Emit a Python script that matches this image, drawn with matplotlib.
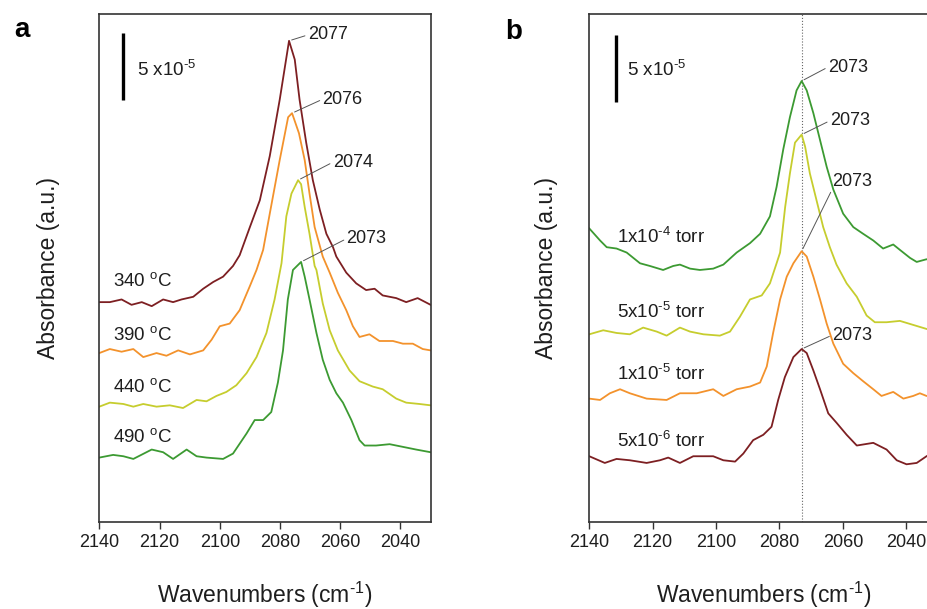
import matplotlib
matplotlib.use('Agg')
import matplotlib.pyplot as plt
import numpy as np

plt.rcParams['font.family'] = ['Liberation Sans', 'DejaVu Sans']
plt.rcParams['mathtext.fontset'] = 'custom'
plt.rcParams['mathtext.rm'] = 'Liberation Sans'
plt.rcParams['mathtext.it'] = 'Liberation Sans:italic'
plt.rcParams['mathtext.bf'] = 'Liberation Sans:bold'

# absorbance in units of 1e-5

# (a) temperature series
wn_340 = [2140.0, 2136.5, 2132.6, 2129.3, 2125.9, 2122.6, 2118.8, 2115.5, 2112.7, 2108.8,
          2105.5, 2102.2, 2098.9, 2095.6, 2093.4, 2090.0, 2086.7, 2083.4, 2080.1, 2077.0,
          2075.1, 2073.5, 2071.3, 2069.1, 2066.8, 2064.6, 2062.4, 2061.3, 2058.0, 2054.7,
          2051.4, 2048.6, 2045.9, 2041.4, 2038.1, 2034.3, 2030.0]
abs_340 = [16.4, 16.4, 16.6, 16.2, 16.4, 16.1, 16.6, 16.4, 16.6, 16.8,
           17.4, 17.9, 18.3, 19.1, 19.9, 22.0, 24.0, 27.3, 31.5, 35.9,
           34.5, 31.5, 28.3, 25.5, 23.3, 21.5, 20.5, 19.8, 18.6, 17.8,
           17.3, 17.4, 16.9, 16.7, 16.4, 16.7, 16.2]

wn_390 = [2140.0, 2136.5, 2132.6, 2128.7, 2125.4, 2121.0, 2117.7, 2113.8, 2109.9, 2105.5,
          2102.7, 2100.0, 2096.7, 2093.4, 2090.0, 2087.8, 2085.6, 2083.4, 2080.1, 2077.3,
          2076.0, 2073.7, 2071.8, 2070.2, 2068.5, 2065.8, 2063.5, 2060.8, 2058.0, 2055.8,
          2053.6, 2050.3, 2047.0, 2042.5, 2039.2, 2035.9, 2032.6, 2030.0]
abs_390 = [12.6, 12.9, 12.7, 12.9, 12.3, 12.6, 12.4, 12.8, 12.5, 12.8,
           13.6, 14.6, 14.8, 15.8, 17.6, 18.8, 20.3, 23.0, 27.0, 30.2,
           30.5, 29.0, 27.0, 24.5, 22.0, 19.8, 18.6, 17.1, 15.8, 14.6,
           13.8, 14.0, 13.5, 13.5, 13.3, 13.3, 12.9, 12.8]

wn_440 = [2140.0, 2136.5, 2132.0, 2128.7, 2125.4, 2121.0, 2116.6, 2112.2, 2107.7, 2104.4,
          2101.1, 2097.8, 2094.5, 2091.1, 2087.8, 2084.5, 2081.8, 2079.5, 2077.9, 2076.2,
          2074.0, 2073.0, 2071.8, 2070.2, 2068.5, 2067.9, 2065.8, 2063.5, 2060.8, 2056.9,
          2053.6, 2049.2, 2045.9, 2041.4, 2038.1, 2033.7, 2030.0]
abs_440 = [8.6, 8.9, 8.8, 8.6, 8.8, 8.6, 8.7, 8.5, 9.1, 9.0,
           9.4, 9.7, 10.2, 11.1, 12.3, 14.1, 16.6, 19.3, 22.8, 24.5,
           25.5, 25.2, 23.5, 21.5, 19.1, 18.8, 16.3, 14.3, 12.8, 11.3,
           10.5, 10.1, 9.9, 9.2, 8.9, 8.8, 8.7]

wn_490 = [2140.0, 2135.4, 2132.0, 2128.7, 2122.6, 2118.8, 2115.5, 2111.0, 2107.7, 2104.4,
          2098.9, 2095.6, 2091.1, 2088.4, 2085.6, 2082.9, 2080.7, 2079.0, 2077.4, 2075.7,
          2073.0, 2071.8, 2070.2, 2067.9, 2065.8, 2063.5, 2061.3, 2059.1, 2056.3, 2053.6,
          2051.9, 2048.1, 2043.6, 2039.2, 2034.8, 2030.0]
abs_490 = [4.8, 5.0, 4.9, 4.7, 5.4, 5.2, 4.7, 5.4, 4.9, 4.8,
           4.7, 5.1, 6.6, 7.6, 7.6, 8.2, 10.4, 12.8, 16.6, 18.8,
           19.4, 18.3, 16.6, 14.1, 12.1, 10.6, 9.6, 8.9, 7.6, 6.1,
           5.7, 5.7, 5.8, 5.6, 5.4, 5.2]

# (b) pressure series
wn_1e4 = [2140.0, 2136.6, 2134.5, 2131.4, 2128.2, 2124.0, 2120.9, 2116.7, 2113.5, 2111.4,
          2108.2, 2105.1, 2100.9, 2097.7, 2093.5, 2089.3, 2086.1, 2083.0, 2080.9, 2078.8,
          2076.7, 2074.6, 2073.0, 2071.4, 2069.3, 2067.2, 2065.1, 2063.0, 2059.9, 2056.7,
          2053.6, 2050.4, 2047.3, 2044.1, 2042.0, 2038.8, 2036.7, 2033.6, 2030.0]
abs_1e4 = [21.9, 21.0, 20.5, 20.4, 20.1, 19.3, 19.1, 18.8, 19.1, 19.2,
           18.9, 18.8, 18.9, 19.2, 20.1, 20.8, 21.5, 22.8, 25.0, 27.8,
           30.2, 32.2, 32.9, 32.2, 30.5, 28.5, 26.5, 24.8, 23.0, 22.0,
           21.5, 21.0, 20.4, 20.7, 20.3, 19.7, 19.4, 19.6, 19.4]

wn_5e5 = [2140.0, 2135.6, 2131.4, 2127.2, 2123.0, 2118.7, 2115.6, 2111.4, 2108.2, 2104.0,
          2098.8, 2095.6, 2092.5, 2089.3, 2085.6, 2083.0, 2080.9, 2079.8, 2078.2, 2076.7,
          2075.1, 2073.0, 2071.9, 2070.4, 2068.3, 2066.2, 2064.1, 2062.0, 2058.8, 2055.6,
          2052.5, 2049.9, 2046.2, 2042.0, 2037.8, 2033.6, 2030.0]
abs_5e5 = [14.0, 14.3, 14.1, 14.0, 14.5, 14.2, 13.9, 14.5, 14.2, 14.0,
           13.9, 14.2, 15.3, 16.6, 16.9, 17.8, 19.3, 20.1, 23.5, 26.0,
           28.3, 28.9, 28.0, 26.0, 24.0, 22.0, 20.5, 19.2, 17.8, 16.8,
           15.4, 14.9, 14.9, 15.0, 14.7, 14.4, 14.2]

wn_1e5 = [2140.0, 2136.6, 2133.5, 2130.3, 2127.2, 2121.9, 2115.6, 2111.4, 2106.1, 2100.9,
          2097.7, 2093.5, 2089.3, 2086.1, 2084.0, 2082.0, 2079.8, 2077.7, 2075.6, 2073.0,
          2071.4, 2069.3, 2067.2, 2065.1, 2063.0, 2059.9, 2056.7, 2053.6, 2050.4, 2047.8,
          2044.1, 2040.9, 2037.8, 2035.7, 2033.6, 2030.0]
abs_1e5 = [9.2, 9.1, 9.6, 9.9, 9.6, 9.2, 9.1, 9.6, 9.6, 9.9,
           9.4, 9.9, 10.1, 10.4, 11.6, 14.1, 16.6, 18.3, 19.3, 20.2,
           19.8, 18.3, 16.6, 14.8, 13.3, 11.8, 11.1, 10.5, 9.9, 9.4,
           9.7, 9.2, 9.4, 9.6, 9.4, 9.4]

wn_5e6 = [2140.0, 2135.1, 2131.4, 2127.2, 2121.9, 2117.7, 2115.1, 2111.4, 2107.2, 2100.9,
          2097.7, 2094.0, 2091.4, 2088.3, 2085.1, 2082.5, 2080.4, 2078.3, 2075.6, 2073.0,
          2071.4, 2069.3, 2067.2, 2064.6, 2062.0, 2058.8, 2055.6, 2050.4, 2046.2, 2043.0,
          2039.9, 2036.7, 2033.6, 2030.0]
abs_5e6 = [4.9, 4.4, 4.7, 4.6, 4.4, 4.6, 4.8, 4.4, 4.9, 4.9,
           4.6, 4.5, 5.1, 6.1, 6.5, 7.1, 9.1, 10.8, 12.3, 12.9,
           12.6, 11.3, 9.9, 8.1, 7.4, 6.5, 5.7, 5.9, 5.4, 4.6,
           4.3, 4.4, 4.9, 5.4]

maroon = '#7d1f22'
orange = '#f3922c'
yellow = '#c6cd2e'
green = '#3c9a32'
text_color = '#1e1e1e'

# superscript helper, short hyphen instead of a math minus
def sup(s):
    return '$^{\\mathregular{' + s.replace('-', '\u2010') + '}}$'


fig = plt.figure(figsize=(9.28, 6.09), dpi=100)
ax_a = fig.add_axes([0.107, 0.143, 0.357, 0.834])
ax_b = fig.add_axes([0.635, 0.143, 0.3757, 0.834])


def setup(ax, ylabel_x):
    ax.set_xlim(2140, 2030)
    ax.set_ylim(0, 37.9)
    ax.set_xticks([2140, 2120, 2100, 2080, 2060, 2040])
    ax.set_yticks([])
    ax.tick_params(axis='x', direction='out', length=5, width=1, pad=4,
                   labelsize=13, colors='#333333', labelcolor=text_color)
    for s in ax.spines.values():
        s.set_linewidth(1.2)
        s.set_color('#333333')
    ax.set_xlabel('Wavenumbers (cm' + sup('-1') + ')', fontsize=16.5, color=text_color)
    ax.xaxis.set_label_coords(0.5, -0.113)
    ax.xaxis.label.set_va('top')
    ax.set_ylabel('Absorbance (a.u.)', fontsize=16.5, color=text_color)
    ax.yaxis.set_label_coords(ylabel_x, 0.5)


def peak_label(ax, wn, ab, text_pos, relpos=(0, 0.5)):
    i = int(np.argmax(ab))
    ax.annotate(f'{wn[i]:.0f}', xy=(wn[i], ab[i]), xytext=text_pos,
                ha='left', va='baseline', fontsize=13, color=text_color,
                arrowprops=dict(arrowstyle='-', color='#555555', lw=0.7,
                                shrinkA=0, shrinkB=2, relpos=relpos))


def scale_bar(ax, x, y0, x_text):
    ax.plot([x, x], [y0, y0 + 5], color='black', lw=2.4, solid_capstyle='butt')
    ax.text(x_text, 33.3, '5 x10' + sup('-5'), fontsize=13.5,
            color=text_color, ha='left', va='baseline')


# panel a
setup(ax_a, -0.12)
lw = 1.3
ax_a.plot(wn_340, abs_340, color=maroon, lw=lw)
ax_a.plot(wn_390, abs_390, color=orange, lw=lw)
ax_a.plot(wn_440, abs_440, color=yellow, lw=lw)
ax_a.plot(wn_490, abs_490, color=green, lw=lw)

for label, y in [('340', 17.6), ('390', 13.6), ('440', 9.7), ('490', 6.0)]:
    ax_a.text(2135.5, y, label + ' ' + sup('o') + 'C', fontsize=13.5,
              color=text_color, ha='left', va='baseline')

peak_label(ax_a, wn_340, abs_340, (2070.8, 36.0))
peak_label(ax_a, wn_390, abs_390, (2065.9, 31.2))
peak_label(ax_a, wn_440, abs_440, (2062.5, 26.5))
peak_label(ax_a, wn_490, abs_490, (2057.9, 20.8))
scale_bar(ax_a, 2132.0, 31.5, 2127.5)
fig.text(0.024, 0.95, 'a', fontsize=20, fontweight='bold', ha='center', va='center')

# panel b
setup(ax_b, -0.09)
ax_b.axvline(2073, color='#666666', ls=':', lw=0.8)
ax_b.plot(wn_1e4, abs_1e4, color=green, lw=lw)
ax_b.plot(wn_5e5, abs_5e5, color=yellow, lw=lw)
ax_b.plot(wn_1e5, abs_1e5, color=orange, lw=lw)
ax_b.plot(wn_5e6, abs_5e6, color=maroon, lw=lw)

for label, y in [('1x10' + sup('-4') + ' torr', 20.8),
                 ('5x10' + sup('-5') + ' torr', 15.2),
                 ('1x10' + sup('-5') + ' torr', 10.6),
                 ('5x10' + sup('-6') + ' torr', 5.6)]:
    ax_b.text(2131.3, y, label, fontsize=13.5, color=text_color,
              ha='left', va='baseline')

peak_label(ax_b, wn_1e4, abs_1e4, (2064.7, 33.6))
peak_label(ax_b, wn_5e5, abs_5e5, (2064.1, 29.6))
peak_label(ax_b, wn_1e5, abs_1e5, (2063.4, 25.1), relpos=(0, 0.0))
peak_label(ax_b, wn_5e6, abs_5e6, (2063.4, 13.6))
scale_bar(ax_b, 2131.6, 31.3, 2128.2)
fig.text(0.553, 0.947, 'b', fontsize=20, fontweight='bold', ha='center', va='center')

fig.savefig('out.png', dpi=100)
